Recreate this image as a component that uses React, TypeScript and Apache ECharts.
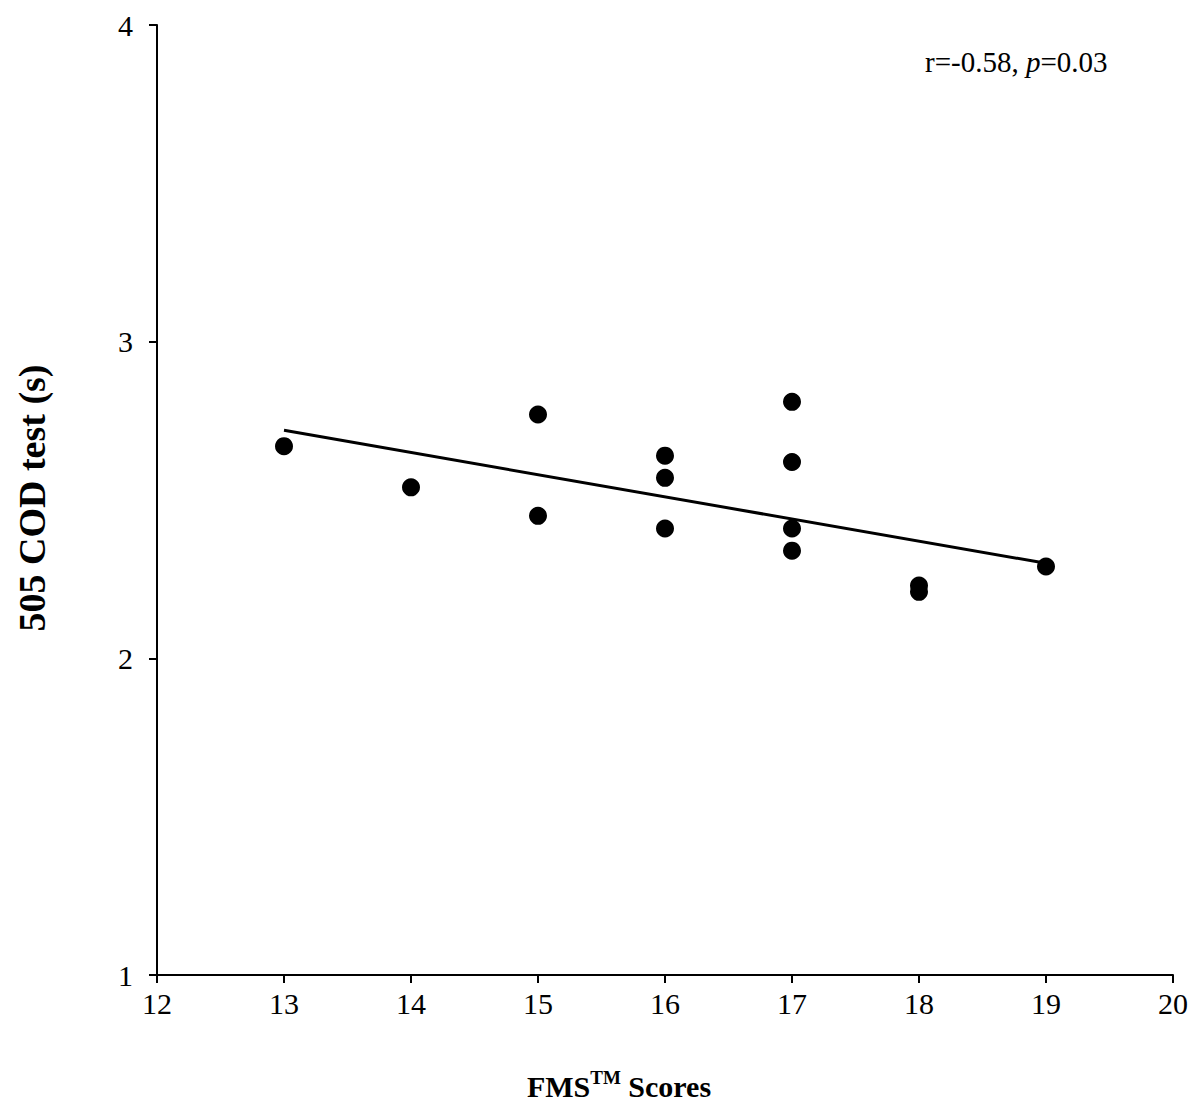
import React, { useEffect, useRef } from "react";
import * as echarts from "echarts";

const fmsScores = [13, 14, 15, 15, 16, 16, 16, 17, 17, 17, 17, 18, 18, 19];
const codTimes = [2.67, 2.54, 2.77, 2.45, 2.64, 2.57, 2.41, 2.81, 2.62, 2.41, 2.34, 2.23, 2.21, 2.29];
const trendX = [13, 19];
const trendY = [2.72, 2.3];
const xTicks = [12, 13, 14, 15, 16, 17, 18, 19, 20];
const yTicks = [1, 2, 3, 4];
const annotation = { r: "-0.58", p: "0.03" };

const FONT = "'Liberation Serif', 'Times New Roman', serif";

export default function App() {
  const ref = useRef<HTMLDivElement>(null);
  useEffect(() => {
    if (!ref.current) return;
    const chart = echarts.init(ref.current, null, { renderer: "svg" });
    const axisCommon = {
      axisLine: { show: true, lineStyle: { color: "#000", width: 2 } },
      axisTick: { show: true, inside: false, length: 8, lineStyle: { color: "#000", width: 2 } },
      splitLine: { show: false },
    };
    chart.setOption({
      animation: false,
      backgroundColor: "#fff",
      grid: { left: 157, right: 27, top: 25, bottom: 138, containLabel: false },
      xAxis: {
        type: "value",
        min: xTicks[0],
        max: xTicks[xTicks.length - 1],
        interval: 1,
        ...axisCommon,
        axisLabel: { color: "#000", fontSize: 30, fontFamily: FONT, margin: 13 },
      },
      yAxis: {
        type: "value",
        min: yTicks[0],
        max: yTicks[yTicks.length - 1],
        interval: 1,
        ...axisCommon,
        axisLabel: { color: "#000", fontSize: 30, fontFamily: FONT, margin: 24 },
      },
      series: [
        {
          type: "line",
          data: trendX.map((x, i) => [x, trendY[i]]),
          symbol: "none",
          lineStyle: { color: "#000", width: 3 },
          z: 2,
        },
        {
          type: "scatter",
          data: fmsScores.map((x, i) => [x, codTimes[i]]),
          symbol: "circle",
          symbolSize: 18,
          itemStyle: { color: "#000", opacity: 1 },
          z: 3,
        },
      ],
      graphic: [
        {
          type: "text",
          x: 925,
          y: 62,
          style: {
            text: `{n|r=${annotation.r}, }{i|p}{n|=${annotation.p}}`,
            align: "left",
            verticalAlign: "middle",
            rich: {
              n: { fontSize: 29, fontFamily: FONT, fill: "#000" },
              i: { fontSize: 29, fontFamily: FONT, fontStyle: "italic", fill: "#000" },
            },
          },
        },
        {
          type: "text",
          x: 619,
          y: 1086,
          style: {
            text: "{b|FMS}{s|TM}{b| Scores}",
            align: "center",
            verticalAlign: "middle",
            rich: {
              b: { fontSize: 30, fontWeight: "bold", fontFamily: FONT, fill: "#000", lineHeight: 36 },
              s: { fontSize: 19, fontWeight: "bold", fontFamily: FONT, fill: "#000", lineHeight: 22, verticalAlign: "top" },
            },
          },
        },
        {
          type: "text",
          x: 32,
          y: 498,
          rotation: Math.PI / 2,
          style: {
            text: "505 COD test (s)",
            align: "center",
            verticalAlign: "middle",
            fontSize: 38,
            fontWeight: "bold",
            fontFamily: FONT,
            fill: "#000",
          },
        },
      ],
    });
    return () => chart.dispose();
  }, []);
  return (
    <div
      ref={ref}
      style={{ position: "absolute", left: 0, top: 0, width: 1200, height: 1113, background: "#fff" }}
    />
  );
}
